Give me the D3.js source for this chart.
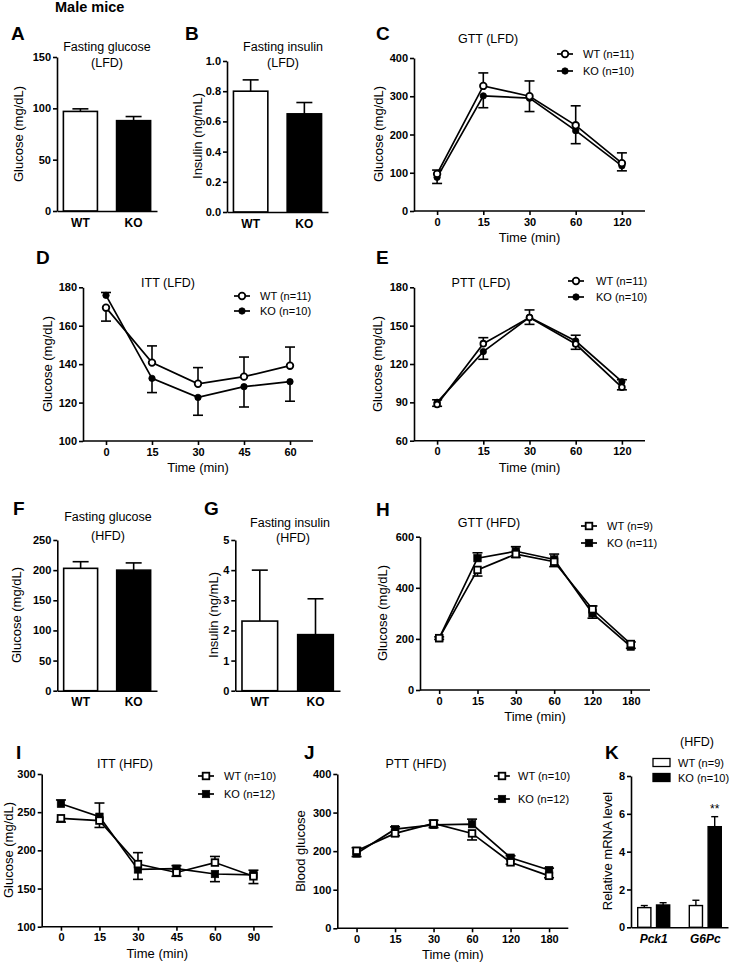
<!DOCTYPE html>
<html><head><meta charset="utf-8">
<script src="https://cdn.jsdelivr.net/npm/d3@7"></script>
<style>body{margin:0;background:#fff}</style>
</head><body><svg id="c" width="734" height="963"></svg>
<script>
// ---------- data ----------
const groups = ["WT", "KO"];
// A: fasting glucose LFD
const aVals = [97, 88], aErr = [2.5, 4];
// B: fasting insulin LFD
const bVals = [0.80, 0.65], bErr = [0.075, 0.075];
// C: GTT LFD
const cTime = ["0", "15", "30", "60", "120"];
const cWT = [97, 327, 300, 224, 125], cWTErr = [10, 34, 40, 51, 27];
const cKO = [88, 301, 295, 210, 118], cKOErr = [16, 31, 35, 34, 13];
// D: ITT LFD
const dTime = ["0", "15", "30", "45", "60"];
const dWT = [169.4, 140.8, 129.8, 133.5, 139.2], dWTErr = [7, 8.7, 8.4, 10.2, 9.7];
const dKO = [175.8, 132.6, 122.7, 128.3, 130.9], dKOErr = [1.5, 7.4, 9.3, 10.6, 10.2];
// E: PTT LFD
const eTime = ["0", "15", "30", "60", "120"];
const eWT = [88.4, 135.9, 156.3, 135.6, 101.8], eWTErr = [1.5, 4.7, 5.3, 4.1, 2];
const eKO = [90, 129.7, 156.5, 138, 106.2], eKOErr = [2, 6, 5.8, 4.5, 1.5];
// F: fasting glucose HFD
const fVals = [203, 200], fErr = [11, 12];
// G: fasting insulin HFD
const gVals = [2.31, 1.86], gErr = [1.69, 1.19];
// H: GTT HFD
const hTime = ["0", "15", "30", "60", "120", "180"];
const hWT = [203, 470, 532, 502, 316, 180], hWTErr = [5, 24, 13, 19, 13, 8];
const hKO = [203, 516, 543, 511, 300, 170], hKOErr = [5, 21, 18, 21, 19, 7];
// I: ITT HFD
const iTime = ["0", "15", "30", "45", "60", "90"];
const iWT = [242, 239, 182, 171, 184, 166], iWTErr = [5, 9, 15, 5, 8, 9.5];
const iKO = [261, 244, 175, 176, 169, 168], iKOErr = [5, 18, 13, 4, 10, 6];
// J: PTT HFD
const jTime = ["0", "15", "30", "60", "120", "180"];
const jWT = [201, 246, 272, 246, 171, 136], jWTErr = [8, 6, 8, 17, 5, 5];
const jKO = [194, 257, 268, 270, 183, 151], jKOErr = [8, 6, 7, 13, 5, 5];
// K: relative mRNA HFD
const genes = ["Pck1", "G6Pc"];
const kWT = [1.04, 1.15], kWTErr = [0.11, 0.28];
const kKO = [1.18, 5.32], kKOErr = [0.12, 0.53];

// ---------- drawing ----------
const FONT = "'Liberation Sans', Arial, Helvetica, sans-serif";
const svg = d3.select("#c");
svg.append("rect").attr("width", 734).attr("height", 963).attr("fill", "#fff");

function txt(x, y, s, o = {}) {
  return svg.append("text").attr("x", x).attr("y", y).text(s)
    .attr("font-family", FONT).attr("font-size", o.size || 12.5)
    .attr("font-weight", o.weight || "normal").attr("font-style", o.style || "normal")
    .attr("text-anchor", o.anchor || "middle").attr("fill", "#000");
}
function yLabel(x, cy, s) {
  svg.append("text").attr("transform", `translate(${x},${cy}) rotate(-90)`)
    .attr("dy", "0.35em").attr("text-anchor", "middle").text(s)
    .attr("font-family", FONT).attr("font-size", 13).attr("fill", "#000");
}
function letter(x, y, s) { txt(x, y, s, { size: 19, weight: "bold", anchor: "start" }); }
function styleAxis(g) {
  g.attr("font-family", FONT).attr("font-size", 11).attr("font-weight", "bold");
  g.selectAll("text").attr("fill", "#000");
  g.select(".domain").attr("stroke", "#000").attr("stroke-width", 1.6);
  g.selectAll(".tick line").attr("stroke", "#000").attr("stroke-width", 1.6);
}
function yAxis(P, y, ticks, fmt) {
  const g = svg.append("g").attr("transform", `translate(${P.x0},0)`)
    .call(d3.axisLeft(y).tickValues(ticks).tickSize(4).tickPadding(2).tickSizeOuter(0)
      .tickFormat(fmt || d3.format("d")));
  styleAxis(g);
}
function errBar(cx, y1, y2, hw, w) {
  svg.append("line").attr("x1", cx).attr("x2", cx).attr("y1", y1).attr("y2", y2)
    .attr("stroke", "#000").attr("stroke-width", w || 1.6);
  svg.append("line").attr("x1", cx - hw).attr("x2", cx + hw).attr("y1", y2).attr("y2", y2)
    .attr("stroke", "#000").attr("stroke-width", w || 1.6);
}

function barPanel(P, vals, errs, ticks, fmt) {
  const x = d3.scaleBand().domain(groups).range([P.x0, P.x1]).paddingInner(0.36).paddingOuter(0.12);
  const y = d3.scaleLinear().domain([ticks[0], ticks[ticks.length - 1]]).range([P.yBot, P.yTop]);
  groups.forEach((gname, i) => {
    const cx = x(gname) + x.bandwidth() / 2;
    errBar(cx, y(vals[i]), y(vals[i] + errs[i]), 8);
  });
  svg.selectAll(null).data(groups).enter().append("rect")
    .attr("x", d => x(d)).attr("y", (d, i) => y(vals[i]))
    .attr("width", x.bandwidth()).attr("height", (d, i) => P.yBot - y(vals[i]))
    .attr("fill", (d, i) => i === 0 ? "#fff" : "#000")
    .attr("stroke", "#000").attr("stroke-width", 1.6);
  const gx = svg.append("g").attr("transform", `translate(0,${P.yBot})`)
    .call(d3.axisBottom(x).tickSize(0).tickPadding(7).tickSizeOuter(0));
  styleAxis(gx);
  gx.attr("font-size", 12);
  yAxis(P, y, ticks, fmt);
}

function marker(sel, shape, filled, cx, cy, big) {
  if (shape === "circle") {
    sel.append("circle").attr("cx", cx).attr("cy", cy)
      .attr("r", filled ? 3.2 : (big ? 3.3 : 2.9))
      .attr("fill", filled ? "#000" : "#fff").attr("stroke", "#000").attr("stroke-width", filled ? 0.8 : 1.8);
  } else {
    const s = filled ? 7.5 : 6.6;
    sel.append("rect").attr("x", cx - s / 2).attr("y", cy - s / 2).attr("width", s).attr("height", s)
      .attr("fill", filled ? "#000" : "#fff").attr("stroke", "#000").attr("stroke-width", filled ? 0.6 : 1.8);
  }
}

function linePanel(P, times, wt, wtErr, ko, koErr, ticks, shape, legend) {
  const x = d3.scalePoint().domain(times).range([P.x0, P.x1]).padding(0.5);
  const y = d3.scaleLinear().domain([ticks[0], ticks[ticks.length - 1]]).range([P.yBot, P.yTop]);
  // error bars: the higher mean gets the upward bar, the lower one the downward bar
  times.forEach((t, i) => {
    const wtUp = wt[i] >= ko[i];
    errBar(x(t), y(wt[i]), y(wtUp ? wt[i] + wtErr[i] : wt[i] - wtErr[i]), 5);
    errBar(x(t), y(ko[i]), y(wtUp ? ko[i] - koErr[i] : ko[i] + koErr[i]), 5);
  });
  const line = d3.line().x((d, i) => x(times[i])).y(d => y(d));
  [ko, wt].forEach(s => {
    svg.append("path").datum(s).attr("d", line).attr("fill", "none")
      .attr("stroke", "#000").attr("stroke-width", 1.7);
  });
  const mg = svg.append("g");
  times.forEach((t, i) => marker(mg, shape, true, x(t), y(ko[i]), P.big));
  times.forEach((t, i) => marker(mg, shape, false, x(t), y(wt[i]), P.big));
  const gx = svg.append("g").attr("transform", `translate(0,${P.yBot})`)
    .call(d3.axisBottom(x).tickSize(4).tickPadding(3).tickSizeOuter(0));
  styleAxis(gx);
  gx.select(".domain").attr("d", `M${P.x0},0H${P.x1}`);
  yAxis(P, y, ticks);
  txt((P.x0 + P.x1) / 2, P.yBot + 31, "Time (min)", { size: 13 });
  // legend
  const L = legend;
  [[L.wy, false, L.labels[0]], [L.ky, true, L.labels[1]]].forEach(([ly, filled, lab]) => {
    svg.append("line").attr("x1", L.mx - 8).attr("x2", L.mx + 8).attr("y1", ly).attr("y2", ly)
      .attr("stroke", "#000").attr("stroke-width", 1.7);
    marker(svg, shape, filled, L.mx, ly, true);
    txt(L.tx, ly + 4, lab, { size: 11, anchor: "start" });
  });
}

// ---------- header ----------
txt(55, 12, "Male mice", { size: 14.5, weight: "bold", anchor: "start" });

// A
const PA = { x0: 57, x1: 157, yTop: 57, yBot: 211 };
letter(11, 40, "A");
txt(107, 51, "Fasting glucose"); txt(107, 67, "(LFD)");
barPanel(PA, aVals, aErr, [0, 50, 100, 150]);
yLabel(18, 134, "Glucose (mg/dL)");

// B
const PB = { x0: 227, x1: 328, yTop: 61, yBot: 212 };
letter(185, 40, "B");
txt(283, 51, "Fasting insulin"); txt(283, 67, "(LFD)");
barPanel(PB, bVals, bErr, [0, 0.2, 0.4, 0.6, 0.8, 1.0], d3.format(".1f"));
yLabel(197, 136, "Insulin (ng/mL)");

// C
const PC = { x0: 414, x1: 645, yTop: 58, yBot: 211, big: true };
letter(376, 40, "C");
txt(488, 42.5, "GTT (LFD)");
linePanel(PC, cTime, cWT, cWTErr, cKO, cKOErr, [0, 100, 200, 300, 400], "circle",
  { mx: 565, tx: 583, wy: 54, ky: 71, labels: ["WT (n=11)", "KO (n=10)"] });
yLabel(378, 134, "Glucose (mg/dL)");

// D
const PD = { x0: 83, x1: 313, yTop: 287.3, yBot: 441, big: true };
letter(36, 264, "D");
txt(168, 286.5, "ITT (LFD)");
linePanel(PD, dTime, dWT, dWTErr, dKO, dKOErr, [100, 120, 140, 160, 180], "circle",
  { mx: 242, tx: 260, wy: 296, ky: 311, labels: ["WT (n=11)", "KO (n=10)"] });
yLabel(47, 364, "Glucose (mg/dL)");

// E
const PE = { x0: 414, x1: 645, yTop: 287.3, yBot: 440.7, big: false };
letter(376, 264, "E");
txt(481, 286.5, "PTT (LFD)");
linePanel(PE, eTime, eWT, eWTErr, eKO, eKOErr, [60, 90, 120, 150, 180], "circle",
  { mx: 576, tx: 596, wy: 281, ky: 297, labels: ["WT (n=11)", "KO (n=10)"] });
yLabel(377, 364, "Glucose (mg/dL)");

// F
const PF = { x0: 57.3, x1: 157, yTop: 540, yBot: 690.7 };
letter(13, 515, "F");
txt(108, 521, "Fasting glucose"); txt(108, 539.5, "(HFD)");
barPanel(PF, fVals, fErr, [0, 50, 100, 150, 200, 250]);
yLabel(16, 615, "Glucose (mg/dL)");

// G
const PG = { x0: 235.3, x1: 340, yTop: 540, yBot: 690.7 };
letter(204, 515, "G");
txt(290, 526.5, "Fasting insulin"); txt(293, 541.5, "(HFD)");
barPanel(PG, gVals, gErr, [0, 1, 2, 3, 4, 5]);
yLabel(213, 615, "Insulin (ng/mL)");

// H
const PH = { x0: 420, x1: 650, yTop: 536.7, yBot: 690 };
letter(376, 516, "H");
txt(489, 527, "GTT (HFD)");
linePanel(PH, hTime, hWT, hWTErr, hKO, hKOErr, [0, 200, 400, 600], "square",
  { mx: 589, tx: 607, wy: 526, ky: 543, labels: ["WT (n=9)", "KO (n=11)"] });
yLabel(382, 613, "Glucose (mg/dL)");

// I
const PI = { x0: 41.7, x1: 272.7, yTop: 774, yBot: 926.7 };
letter(16, 759, "I");
txt(125, 767.5, "ITT (HFD)");
linePanel(PI, iTime, iWT, iWTErr, iKO, iKOErr, [100, 150, 200, 250, 300], "square",
  { mx: 206, tx: 224, wy: 776, ky: 794, labels: ["WT (n=10)", "KO (n=12)"] });
yLabel(8, 850, "Glucose (mg/dL)");

// J
const PJ = { x0: 337.3, x1: 568.3, yTop: 774, yBot: 928.3 };
letter(304, 759, "J");
txt(416, 767.5, "PTT (HFD)");
linePanel(PJ, jTime, jWT, jWTErr, jKO, jKOErr, [0, 100, 200, 300, 400], "square",
  { mx: 502, tx: 518, wy: 776, ky: 799, labels: ["WT (n=10)", "KO (n=12)"] });
yLabel(300, 851, "Blood glucose");

// K
const PK = { x0: 631, x1: 728, yTop: 776, yBot: 927.3 };
letter(605, 759, "K");
txt(697, 746, "(HFD)");
{
  const x0 = d3.scaleBand().domain(genes).range([PK.x0, PK.x1]).paddingInner(0.38).paddingOuter(0.13);
  const x1 = d3.scaleBand().domain(groups).range([0, x0.bandwidth()]).paddingInner(0.3);
  const y = d3.scaleLinear().domain([0, 8]).range([PK.yBot, PK.yTop]);
  const series = [[kWT, kWTErr], [kKO, kKOErr]];
  genes.forEach((gene, gi) => {
    groups.forEach((grp, si) => {
      const v = series[si][0][gi], e = series[si][1][gi];
      const bx = x0(gene) + x1(grp);
      errBar(bx + x1.bandwidth() / 2, y(v), y(v + e), 3.5, 1.4);
      svg.append("rect").attr("x", bx).attr("y", y(v)).attr("width", x1.bandwidth())
        .attr("height", PK.yBot - y(v)).attr("fill", si === 0 ? "#fff" : "#000")
        .attr("stroke", "#000").attr("stroke-width", 1.4);
    });
  });
  const gx = svg.append("g").attr("transform", `translate(0,${PK.yBot})`)
    .call(d3.axisBottom(x0).tickSize(0).tickPadding(7).tickSizeOuter(0));
  styleAxis(gx);
  gx.attr("font-size", 12).attr("font-style", "italic");
  yAxis(PK, y, [0, 2, 4, 6, 8]);
  txt(x0("G6Pc") + x1("KO") + x1.bandwidth() / 2, 812.5, "**", { size: 12 });
  yLabel(607, 851, "Relative mRNA level");
  // legend
  [[762.5, "#fff", "WT (n=9)"], [777.5, "#000", "KO (n=10)"]].forEach(([ly, fill, lab]) => {
    svg.append("rect").attr("x", 653).attr("y", ly - 4).attr("width", 17).attr("height", 8)
      .attr("fill", fill).attr("stroke", "#000").attr("stroke-width", 1.3);
    txt(678, ly + 4, lab, { size: 11, anchor: "start" });
  });
}
</script></body></html>
